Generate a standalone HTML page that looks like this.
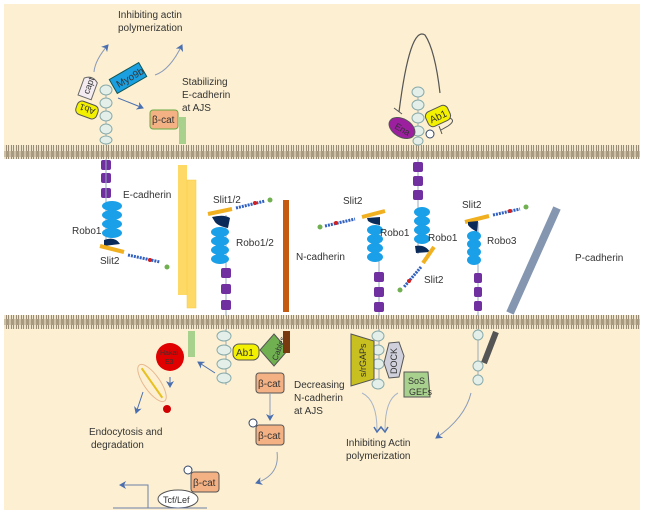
<!DOCTYPE html>
<html><head><meta charset="utf-8"><style>
html,body{margin:0;padding:0;background:#fff}
svg{display:block}
text{font-family:"Liberation Sans",sans-serif;fill:#333}
</style></head><body>
<svg width="650" height="517" viewBox="0 0 650 517" xmlns="http://www.w3.org/2000/svg">
<defs>
<pattern id="mem" x="0" y="0" width="5" height="14" patternUnits="userSpaceOnUse">
<rect width="5" height="14" fill="#efe4cc"/>
<rect x="0.5" y="0" width="4" height="3" fill="#a89a80"/>
<rect x="0.5" y="11" width="4" height="3" fill="#a89a80"/>
<rect x="1" y="3" width="1" height="8" fill="#9a8c74"/>
<rect x="3" y="3" width="1" height="8" fill="#9a8c74"/>
</pattern>
<marker id="ar" markerWidth="8" markerHeight="8" refX="6" refY="4" orient="auto" markerUnits="userSpaceOnUse"><path d="M0,0 L7,4 L0,8 L2,4z" fill="#4a6fb0"/></marker>
</defs>
<rect x="4" y="4" width="636" height="141" fill="#fdf0d2"/>
<rect x="4" y="329" width="636" height="181" fill="#fdf0d2"/>
<rect x="4" y="145" width="636" height="14" fill="url(#mem)"/>
<rect x="4" y="315" width="636" height="14" fill="url(#mem)"/>

<!-- top left -->
<text x="118" y="18" font-size="10">Inhibiting actin</text>
<text x="118" y="31" font-size="10">polymerization</text>
<path d="M94,72 Q95,60 108,45" fill="none" stroke="#8a9ab8" marker-end="url(#ar)"/>
<path d="M155,75 Q170,70 182,45" fill="none" stroke="#8a9ab8" marker-end="url(#ar)"/>
<path d="M118,98 L143,108" fill="none" stroke="#4a6fb0" marker-end="url(#ar)"/>
<line x1="106" y1="85" x2="106" y2="145" stroke="#9ab"/>
<g fill="#e3efe8" stroke="#8aa">
<ellipse cx="106" cy="90" rx="6" ry="5"/><ellipse cx="106" cy="103" rx="6" ry="5"/><ellipse cx="106" cy="116" rx="6" ry="5"/><ellipse cx="106" cy="129" rx="6" ry="5"/><ellipse cx="106" cy="140" rx="6" ry="4"/></g>
<g transform="translate(88,88) rotate(-70)"><path d="M-10,-7 L8,-7 Q14,0 8,7 L-10,7z" fill="#f4ecf0" stroke="#666"/><text x="-6" y="3" font-size="9" fill="#333">capt</text></g>
<g transform="translate(87,110) rotate(20)"><rect x="-11" y="-7" width="22" height="14" rx="5" fill="#f3f000" stroke="#555"/><text x="-8" y="4" font-size="9" fill="#333" transform="rotate(180 0 0)">Ab1</text></g>
<g transform="translate(128,78) rotate(-30)"><rect x="-17" y="-8" width="34" height="16" fill="#1aa0e0" stroke="#155"/><text x="-13" y="4" font-size="10" fill="#123">Myo9b</text></g>
<rect x="150" y="110" width="28" height="19" rx="3" fill="#f4b183" stroke="#6a4"/>
<text x="152" y="123" font-size="10">β-cat</text>
<rect x="179" y="117" width="7" height="27" fill="#a9d18e"/>
<text x="182" y="85" font-size="10">Stabilizing</text>
<text x="182" y="98" font-size="10">E-cadherin</text>
<text x="182" y="111" font-size="10">at AJS</text>

<!-- top right -->
<path d="M399,112 Q410,25 425,35 Q435,50 440,93" fill="none" stroke="#555" stroke-width="1.2"/>
<line x1="394" y1="108" x2="402" y2="114" stroke="#555"/>
<path d="M440,116 Q460,118 448,126 L441,130" fill="none" stroke="#555"/>
<line x1="439" y1="126" x2="442" y2="134" stroke="#555"/>
<line x1="418" y1="88" x2="418" y2="146" stroke="#9ab"/>
<g fill="#e3efe8" stroke="#8aa">
<ellipse cx="418" cy="92" rx="6" ry="5"/><ellipse cx="418" cy="105" rx="6" ry="5"/><ellipse cx="418" cy="118" rx="6" ry="5"/><ellipse cx="418" cy="131" rx="6" ry="5"/><ellipse cx="418" cy="141" rx="5" ry="4"/></g>
<g transform="translate(402,128) rotate(30)"><ellipse rx="14" ry="9" fill="#9c1fa0" stroke="#555"/><text x="-7" y="4" font-size="9" fill="#fff">Ena</text></g>
<g transform="translate(438,116) rotate(-25)"><rect x="-12" y="-8" width="24" height="16" rx="5" fill="#f3f000" stroke="#555"/><text x="-9" y="4" font-size="10">Ab1</text></g>
<circle cx="430" cy="134" r="4" fill="#fff" stroke="#346"/>

<!-- middle: Robo1 left -->
<g fill="#7030a0"><rect x="101" y="160" width="10" height="10" rx="2"/><rect x="101" y="173" width="10" height="10" rx="2"/><rect x="101" y="188" width="10" height="10" rx="2"/></g>
<line x1="106" y1="159" x2="106" y2="245" stroke="#9ab"/>
<g fill="#1aa0e8"><ellipse cx="112" cy="206" rx="10" ry="5"/><ellipse cx="112" cy="215" rx="10" ry="5"/><ellipse cx="112" cy="224" rx="10" ry="5"/><ellipse cx="112" cy="233" rx="10" ry="5"/></g>
<path d="M104,240 Q115,236 120,244 L104,246z" fill="#0a2a5a"/>
<line x1="100" y1="246" x2="124" y2="252" stroke="#f0b020" stroke-width="4"/>
<line x1="128" y1="255" x2="160" y2="262" stroke="#3060c0" stroke-width="3" stroke-dasharray="2,1"/>
<circle cx="150" cy="260" r="2" fill="#d02020"/><circle cx="167" cy="267" r="2.5" fill="#70b050"/>
<text x="72" y="234" font-size="10">Robo1</text>
<text x="100" y="264" font-size="10">Slit2</text>
<text x="123" y="198" font-size="10">E-cadherin</text>
<rect x="178" y="165" width="9" height="130" fill="#ffd966"/>
<rect x="187" y="180" width="9" height="128" fill="#ffd966" stroke="#f5c940" stroke-width="0.5"/>

<!-- Robo1/2 -->
<text x="213" y="203" font-size="10">Slit1/2</text>
<line x1="208" y1="214" x2="232" y2="209" stroke="#f0b020" stroke-width="4"/>
<line x1="236" y1="208" x2="265" y2="201" stroke="#3060c0" stroke-width="3" stroke-dasharray="2,1"/>
<circle cx="255" cy="203" r="2" fill="#d02020"/><circle cx="270" cy="200" r="2.5" fill="#70b050"/>
<line x1="226" y1="215" x2="226" y2="316" stroke="#9ab"/>
<path d="M212,217 Q224,214 230,218 L228,228 Q218,226 215,222z" fill="#0a2a5a"/>
<g fill="#1aa0e8"><ellipse cx="220" cy="232" rx="9" ry="5"/><ellipse cx="220" cy="241" rx="9" ry="5"/><ellipse cx="220" cy="250" rx="9" ry="5"/><ellipse cx="220" cy="259" rx="9" ry="5"/></g>
<g fill="#7030a0"><rect x="221" y="268" width="10" height="10" rx="2"/><rect x="221" y="284" width="10" height="10" rx="2"/><rect x="221" y="300" width="10" height="10" rx="2"/></g>
<text x="236" y="246" font-size="10">Robo1/2</text>
<rect x="283" y="200" width="6" height="112" fill="#c55a11"/>
<text x="296" y="260" font-size="10">N-cadherin</text>

<!-- Robo1 #2 -->
<text x="343" y="204" font-size="10">Slit2</text>
<line x1="362" y1="217" x2="385" y2="211" stroke="#f0b020" stroke-width="4"/>
<line x1="325" y1="226" x2="355" y2="219" stroke="#3060c0" stroke-width="3" stroke-dasharray="2,1"/>
<circle cx="336" cy="223" r="2" fill="#d02020"/><circle cx="320" cy="227" r="2.5" fill="#70b050"/>
<line x1="379" y1="218" x2="379" y2="316" stroke="#9ab"/>
<path d="M367,218 L380,217 L380,225 Q372,224 368,221z" fill="#0a2a5a"/>
<g fill="#1aa0e8"><ellipse cx="375" cy="230" rx="8" ry="5"/><ellipse cx="375" cy="239" rx="8" ry="5"/><ellipse cx="375" cy="248" rx="8" ry="5"/><ellipse cx="375" cy="257" rx="8" ry="5"/></g>
<g fill="#7030a0"><rect x="374" y="272" width="10" height="10" rx="2"/><rect x="374" y="287" width="10" height="10" rx="2"/><rect x="374" y="302" width="10" height="10" rx="2"/></g>
<text x="380" y="236" font-size="10">Robo1</text>

<!-- Robo1 #3 -->
<line x1="418" y1="159" x2="418" y2="254" stroke="#9ab"/>
<g fill="#7030a0"><rect x="413" y="162" width="10" height="10" rx="2"/><rect x="413" y="176" width="10" height="10" rx="2"/><rect x="413" y="190" width="10" height="10" rx="2"/></g>
<g fill="#1aa0e8"><ellipse cx="422" cy="212" rx="8" ry="5"/><ellipse cx="422" cy="221" rx="8" ry="5"/><ellipse cx="422" cy="230" rx="8" ry="5"/><ellipse cx="422" cy="239" rx="8" ry="5"/></g>
<path d="M415,246 Q425,244 430,252 L416,253z" fill="#0a2a5a"/>
<text x="428" y="241" font-size="10">Robo1</text>
<line x1="434" y1="247" x2="423" y2="263" stroke="#f0b020" stroke-width="4"/>
<line x1="421" y1="267" x2="404" y2="287" stroke="#3060c0" stroke-width="3" stroke-dasharray="2,1"/>
<circle cx="409" cy="281" r="2" fill="#d02020"/><circle cx="400" cy="290" r="2.5" fill="#70b050"/>
<text x="424" y="283" font-size="10">Slit2</text>

<!-- Robo3 -->
<text x="462" y="208" font-size="10">Slit2</text>
<line x1="465" y1="222" x2="489" y2="216" stroke="#f0b020" stroke-width="4"/>
<line x1="493" y1="215" x2="520" y2="209" stroke="#3060c0" stroke-width="3" stroke-dasharray="2,1"/>
<circle cx="510" cy="211" r="2" fill="#d02020"/><circle cx="526" cy="207" r="2.5" fill="#70b050"/>
<line x1="478" y1="222" x2="478" y2="316" stroke="#9ab"/>
<path d="M468,222 L478,221 L477,232 Q470,228 468,225z" fill="#0a2a5a"/>
<g fill="#1aa0e8"><ellipse cx="474" cy="236" rx="7" ry="5"/><ellipse cx="474" cy="244" rx="7" ry="5"/><ellipse cx="474" cy="252" rx="7" ry="5"/><ellipse cx="474" cy="260" rx="7" ry="5"/></g>
<g fill="#7030a0"><rect x="474" y="273" width="8" height="10" rx="2"/><rect x="474" y="287" width="8" height="10" rx="2"/><rect x="474" y="301" width="8" height="10" rx="2"/></g>
<text x="487" y="244" font-size="10">Robo3</text>
<line x1="557" y1="208" x2="510" y2="313" stroke="#8496b0" stroke-width="8"/>
<text x="575" y="261" font-size="10">P-cadherin</text>

<!-- bottom left -->
<rect x="188" y="331" width="7" height="26" fill="#a9d18e"/>
<circle cx="170" cy="357" r="14" fill="#e00000"/>
<text x="160" y="355" font-size="7" fill="#a00">Hakai</text>
<text x="165" y="364" font-size="7" fill="#a00">E3</text>
<g transform="translate(152,383) rotate(55)"><ellipse rx="22" ry="8" fill="none" stroke="#e8b890"/><line x1="-18" y1="0" x2="18" y2="0" stroke="#e8c020" stroke-width="2"/></g>
<circle cx="167" cy="409" r="4" fill="#d00000"/>
<line x1="170" y1="377" x2="170" y2="387" stroke="#4a6fb0" marker-end="url(#ar)"/>
<line x1="143" y1="392" x2="136" y2="413" stroke="#4a6fb0" marker-end="url(#ar)"/>
<line x1="215" y1="373" x2="198" y2="362" stroke="#4a6fb0" marker-end="url(#ar)"/>
<text x="89" y="435" font-size="10">Endocytosis and</text>
<text x="91" y="448" font-size="10">degradation</text>
<line x1="226" y1="329" x2="226" y2="385" stroke="#9ab"/>
<g fill="#e3efe8" stroke="#8aa">
<ellipse cx="224" cy="336" rx="7" ry="5"/><ellipse cx="224" cy="350" rx="7" ry="5"/><ellipse cx="224" cy="364" rx="7" ry="5"/><ellipse cx="224" cy="378" rx="7" ry="5"/></g>
<rect x="233" y="344" width="26" height="16" rx="6" fill="#f3f000" stroke="#555"/>
<text x="236" y="356" font-size="10">Ab1</text>
<path d="M274,334 L288,350 L274,366 L260,350z" fill="#70b050" stroke="#555"/>
<text x="0" y="0" font-size="8" transform="translate(277,361) rotate(-70)">Cables</text>
<rect x="283" y="331" width="7" height="22" fill="#7a3a10"/>
<rect x="256" y="373" width="28" height="20" rx="3" fill="#f4b183" stroke="#555"/><text x="258" y="387" font-size="10">β-cat</text>
<line x1="270" y1="393" x2="270" y2="420" stroke="#8a9ab8" marker-end="url(#ar)"/>
<rect x="256" y="425" width="28" height="20" rx="3" fill="#f4b183" stroke="#555"/><text x="258" y="439" font-size="10">β-cat</text>
<circle cx="253" cy="423" r="4" fill="#fff" stroke="#346"/>
<text x="294" y="388" font-size="10">Decreasing</text>
<text x="294" y="401" font-size="10">N-cadherin</text>
<text x="294" y="414" font-size="10">at AJS</text>
<path d="M277,452 Q280,475 256,483" fill="none" stroke="#8a9ab8" marker-end="url(#ar)"/>
<rect x="191" y="472" width="28" height="20" rx="3" fill="#f4b183" stroke="#555"/><text x="193" y="486" font-size="10">β-cat</text>
<circle cx="188" cy="470" r="4" fill="#fff" stroke="#346"/>
<ellipse cx="178" cy="499" rx="20" ry="9" fill="#fff" stroke="#555"/><text x="163" y="503" font-size="9">Tcf/Lef</text>
<line x1="113" y1="508" x2="207" y2="508" stroke="#6a80a8"/>
<polyline points="148,508 148,485 120,485" fill="none" stroke="#6a80a8" marker-end="url(#ar)"/>

<!-- bottom right -->
<line x1="379" y1="329" x2="379" y2="388" stroke="#9ab"/>
<g fill="#e3efe8" stroke="#8aa">
<ellipse cx="378" cy="336" rx="6" ry="5"/><ellipse cx="378" cy="350" rx="6" ry="5"/><ellipse cx="378" cy="364" rx="6" ry="5"/><ellipse cx="378" cy="384" rx="6" ry="5"/></g>
<path d="M351,334 L374,341 L374,379 L351,386z" fill="#c8c020" stroke="#555"/>
<text x="0" y="0" font-size="9" transform="translate(366,377) rotate(-90)">s/rGAPs</text>
<path d="M389,343 L399,342 L404,356 L399,377 L389,378 L384,363z" fill="#d0d0dc" stroke="#555"/>
<text x="0" y="0" font-size="9" transform="translate(397,374) rotate(-90)">DOCK</text>
<path d="M404,372 L428,372 L430,397 L404,397z" fill="#a9d18e" stroke="#555"/>
<text x="408" y="384" font-size="9">SoS</text><text x="409" y="395" font-size="9">GEFs</text>
<path d="M362,393 Q377,400 377,430" fill="none" stroke="#a8b4c8"/>
<path d="M398,393 Q385,400 385,430" fill="none" stroke="#a8b4c8"/>
<path d="M374,427 L377,432 L381,427 L385,432 L388,427" fill="none" stroke="#4a6fb0" stroke-width="1.5"/>
<text x="346" y="446" font-size="10">Inhibiting Actin</text>
<text x="346" y="459" font-size="10">polymerization</text>
<line x1="478" y1="329" x2="478" y2="382" stroke="#9ab"/>
<g fill="#e3efe8" stroke="#8aa"><ellipse cx="478" cy="335" rx="5" ry="5"/><ellipse cx="478" cy="366" rx="5" ry="5"/><ellipse cx="478" cy="380" rx="5" ry="5"/></g>
<line x1="496" y1="332" x2="484" y2="363" stroke="#555" stroke-width="6"/>
<path d="M471,393 Q465,418 436,438" fill="none" stroke="#8a9ab8" marker-end="url(#ar)"/>
</svg>
</body></html>
